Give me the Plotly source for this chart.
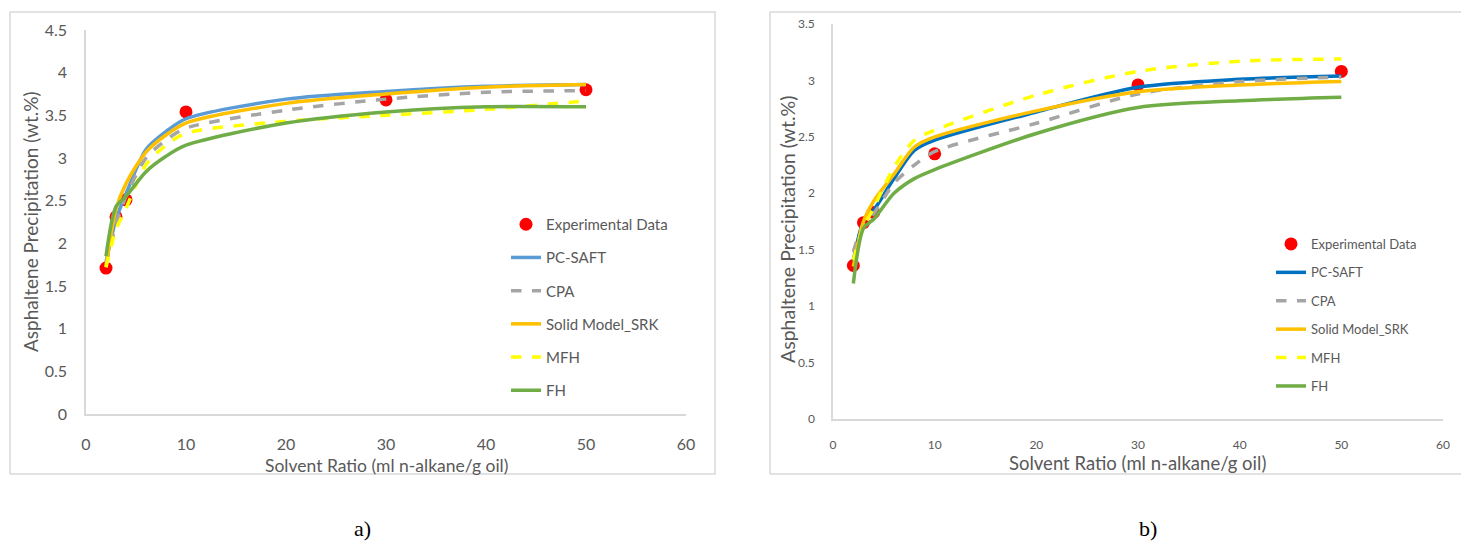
import plotly.graph_objects as go

# ---------------- data ----------------
exp_x = [2, 3, 4, 10, 30, 50]
exp_a = [1.71, 2.31, 2.51, 3.54, 3.68, 3.80]
exp_b = [1.36, 1.74, 1.83, 2.35, 2.96, 3.08]

model_x = [2, 3, 4, 6, 8, 10, 20, 30, 40, 50]

a_pcsaft = [1.78, 2.28, 2.58, 3.10, 3.31, 3.46, 3.69, 3.78, 3.84, 3.86]
a_cpa    = [1.75, 2.22, 2.55, 3.00, 3.21, 3.35, 3.56, 3.69, 3.77, 3.79]
a_solid  = [1.72, 2.40, 2.70, 3.07, 3.27, 3.41, 3.64, 3.75, 3.83, 3.86]
a_mfh    = [1.72, 2.16, 2.41, 2.92, 3.15, 3.29, 3.43, 3.50, 3.57, 3.67]
a_fh     = [1.85, 2.43, 2.55, 2.84, 3.02, 3.15, 3.41, 3.54, 3.60, 3.60]

b_pcsaft = [1.40, 1.75, 1.85, 2.13, 2.38, 2.47, 2.72, 2.94, 3.01, 3.04]
b_cpa    = [1.48, 1.73, 1.82, 2.09, 2.25, 2.37, 2.62, 2.88, 2.99, 3.03]
b_solid  = [1.35, 1.75, 1.93, 2.17, 2.41, 2.50, 2.73, 2.90, 2.96, 2.99]
b_mfh    = [1.41, 1.70, 1.87, 2.23, 2.47, 2.56, 2.87, 3.08, 3.17, 3.19]
b_fh     = [1.20, 1.69, 1.77, 2.00, 2.13, 2.21, 2.53, 2.76, 2.82, 2.85]

names = ["PC-SAFT", "CPA", "Solid Model_SRK", "MFH", "FH"]
x_ticks = [0, 10, 20, 30, 40, 50, 60]
x_title = "Solvent Ratio (ml n-alkane/g oil)"
y_title = "Asphaltene Precipitation (wt.%)"

# ---------------- figure ----------------
W, H = 1461, 545
FONT = "Lato"
TXT = "#595959"
AX = "#D9D9D9"

def px(x):
    return x / W

def py(y):
    return 1 - y / H

fig = go.Figure()

styles_a = [
    dict(color="#5B9BD5", dash="solid"),
    dict(color="#A5A5A5", dash="dash"),
    dict(color="#FFC000", dash="solid"),
    dict(color="#FFFF00", dash="dash"),
    dict(color="#70AD47", dash="solid"),
]
styles_b = [
    dict(color="#0070C0", dash="solid"),
    dict(color="#A5A5A5", dash="dash"),
    dict(color="#FFC000", dash="solid"),
    dict(color="#FFFF00", dash="dash"),
    dict(color="#70AD47", dash="solid"),
]

series_a = [a_pcsaft, a_cpa, a_solid, a_mfh, a_fh]
series_b = [b_pcsaft, b_cpa, b_solid, b_mfh, b_fh]

# panel a
fig.add_trace(go.Scatter(x=exp_x, y=exp_a, mode="markers", name="Experimental Data",
                         marker=dict(color="#FF0000", size=13), xaxis="x", yaxis="y",
                         legend="legend", legendgroup="a0"))
for i, (nm, ys, st) in enumerate(zip(names, series_a, styles_a)):
    fig.add_trace(go.Scatter(x=model_x, y=ys, mode="lines", name=nm,
                             line=dict(color=st["color"], dash=st["dash"], width=3.5,
                                       shape="spline", smoothing=0.8),
                             xaxis="x", yaxis="y", legend="legend", legendgroup=f"a{i+1}"))

# panel b
fig.add_trace(go.Scatter(x=exp_x, y=exp_b, mode="markers", name="Experimental Data",
                         marker=dict(color="#FF0000", size=13), xaxis="x2", yaxis="y2",
                         legend="legend2", legendgroup="b0"))
for i, (nm, ys, st) in enumerate(zip(names, series_b, styles_b)):
    fig.add_trace(go.Scatter(x=model_x, y=ys, mode="lines", name=nm,
                             line=dict(color=st["color"], dash=st["dash"], width=3.5,
                                       shape="spline", smoothing=0.8),
                             xaxis="x2", yaxis="y2", legend="legend2", legendgroup=f"b{i+1}"))

axis_common = dict(showgrid=False, zeroline=False, showline=True, linecolor=AX,
                   linewidth=1.5, ticks="", fixedrange=True, automargin=False)

fig.update_layout(
    width=W, height=H,
    margin=dict(l=0, r=0, t=0, b=0, pad=0, autoexpand=False),
    paper_bgcolor="white", plot_bgcolor="white",
    font=dict(family=FONT, color=TXT),
    xaxis=dict(domain=[px(86), px(686)], range=[0, 60], tickvals=x_ticks,
               tickfont=dict(size=16, color=TXT), ticklabelstandoff=15, anchor="y",
               **axis_common),
    yaxis=dict(domain=[py(414), py(30)], range=[0, 4.5], dtick=0.5,
               tickfont=dict(size=16, color=TXT), ticklabelstandoff=14, anchor="x",
               **axis_common),
    xaxis2=dict(domain=[px(833), px(1443)], range=[0, 60], tickvals=x_ticks,
                tickfont=dict(size=12, color=TXT), ticklabelstandoff=14, anchor="y2",
                **axis_common),
    yaxis2=dict(domain=[py(419), py(24)], range=[0, 3.5], dtick=0.5,
                tickfont=dict(size=12, color=TXT), ticklabelstandoff=14, anchor="x2",
                **axis_common),
    legend=dict(x=px(506), y=py(208), xanchor="left", yanchor="top",
                bgcolor="rgba(0,0,0,0)", font=dict(size=15, color=TXT, family=FONT),
                traceorder="grouped", tracegroupgap=10.7, itemwidth=30),
    legend2=dict(x=px(1271), y=py(229), xanchor="left", yanchor="top",
                 bgcolor="rgba(0,0,0,0)", font=dict(size=13, color=TXT, family=FONT),
                 traceorder="grouped", tracegroupgap=8.5, itemwidth=30),
    showlegend=True,
)

# panel borders
fig.add_shape(type="rect", xref="paper", yref="paper",
              x0=px(10), x1=px(715), y0=py(474), y1=py(12),
              line=dict(color=AX, width=1.5), layer="below")
fig.add_shape(type="rect", xref="paper", yref="paper",
              x0=px(770), x1=px(1475), y0=py(474), y1=py(12),
              line=dict(color=AX, width=1.5), layer="below")

def label(x, y, text, size, angle=0, color=TXT, family=FONT):
    fig.add_annotation(x=px(x), y=py(y), xref="paper", yref="paper", text=text,
                       showarrow=False, textangle=angle, xanchor="center", yanchor="middle",
                       font=dict(size=size, color=color, family=family))

# axis titles
label(386, 465, x_title, 17.5)
label(30, 222, y_title, 19, angle=-90)
label(1137, 463, x_title, 18.5)
label(787, 230, y_title, 19.5, angle=-90)

# panel labels
label(362, 528, "a)", 22, color="black", family="Liberation Serif")
label(1148, 528, "b)", 22, color="black", family="Liberation Serif")

fig.write_html("out.html")
